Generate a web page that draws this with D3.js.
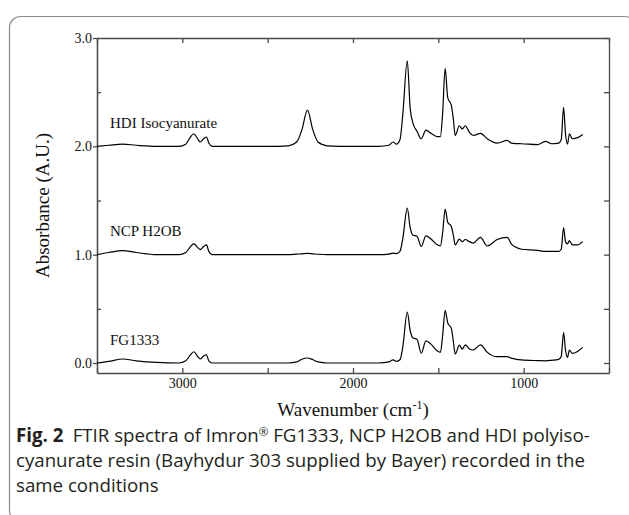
<!DOCTYPE html>
<html>
<head>
<meta charset="utf-8">
<script src="https://cdn.jsdelivr.net/npm/d3@7"></script>
<style>
  body { margin: 0; background: #fff; }
  svg { display: block; }
  .axis path, .axis line { stroke: #4a4a4a; stroke-width: 1.3; }
  .axis text { font-family: "Liberation Serif", serif; font-size: 14px; fill: #111; }
</style>
</head>
<body>
<div class="svgContainer"></div>
<script>
/* wavenumbers (cm-1) shared by the three spectra */
var wavenumbers = [3500, 3430, 3350, 3270, 3150, 3020, 2980, 2955, 2933, 2910,
  2895, 2875, 2858, 2845, 2825, 2700, 2500, 2380, 2330, 2300,
  2267, 2235, 2205, 2150, 2000, 1850, 1790, 1765, 1745, 1725,
  1708, 1682, 1665, 1648, 1625, 1600, 1573, 1543, 1507, 1488,
  1475, 1460, 1445, 1424, 1412, 1401, 1377, 1360, 1342, 1318,
  1295, 1253, 1213, 1155, 1096, 1073, 1048, 1013, 919, 872,
  837, 795, 780, 766, 755, 743, 732, 715, 684, 654];

/* absorbance (already stacked as plotted) */
var hdiValues = [2.00, 2.01, 2.02, 2.01, 2.00, 2.00, 2.02, 2.08, 2.116, 2.07,
  2.04, 2.07, 2.086, 2.03, 2.00, 2.00, 2.00, 2.005, 2.04, 2.15,
  2.335, 2.15, 2.04, 2.005, 2.00, 2.00, 2.01, 2.04, 2.02, 2.06,
  2.30, 2.79, 2.35, 2.21, 2.14, 2.07, 2.15, 2.12, 2.09, 2.09,
  2.30, 2.72, 2.45, 2.38, 2.25, 2.10, 2.19, 2.16, 2.19, 2.13,
  2.10, 2.12, 2.07, 2.03, 2.055, 2.03, 2.025, 2.024, 2.015, 2.046,
  2.024, 2.03, 2.06, 2.36, 2.12, 2.02, 2.116, 2.07, 2.08, 2.11];

var ncpValues = [1.00, 1.02, 1.037, 1.02, 1.00, 1.00, 1.02, 1.07, 1.10, 1.065,
  1.046, 1.075, 1.09, 1.03, 1.00, 1.00, 1.00, 1.00, 1.005, 1.008,
  1.012, 1.008, 1.004, 1.00, 1.00, 1.00, 1.005, 1.015, 1.01, 1.03,
  1.15, 1.43, 1.25, 1.18, 1.17, 1.076, 1.174, 1.144, 1.092, 1.08,
  1.20, 1.42, 1.30, 1.26, 1.18, 1.09, 1.144, 1.12, 1.14, 1.12,
  1.107, 1.16, 1.08, 1.14, 1.16, 1.10, 1.07, 1.05, 1.04, 1.03,
  1.03, 1.03, 1.05, 1.25, 1.12, 1.10, 1.13, 1.09, 1.09, 1.12];

var fgValues = [0.00, 0.015, 0.037, 0.02, 0.005, 0.00, 0.02, 0.07, 0.104, 0.06,
  0.037, 0.065, 0.076, 0.02, 0.00, 0.00, 0.00, 0.00, 0.01, 0.035,
  0.046, 0.03, 0.01, 0.00, 0.00, 0.00, 0.01, 0.028, 0.015, 0.03,
  0.15, 0.47, 0.30, 0.23, 0.22, 0.09, 0.205, 0.174, 0.113, 0.098,
  0.25, 0.486, 0.37, 0.32, 0.20, 0.083, 0.165, 0.128, 0.168, 0.13,
  0.12, 0.168, 0.098, 0.058, 0.058, 0.045, 0.035, 0.028, 0.022, 0.02,
  0.025, 0.034, 0.06, 0.28, 0.12, 0.052, 0.12, 0.089, 0.107, 0.144];

var seriesNames = ["HDI Isocyanurate", "NCP H2OB", "FG1333"];
var seriesBase = [2, 1, 0];

var yTickValues = [0, 1, 2, 3];
var yMinorValues = [0.5, 1.5, 2.5];
var xTickValues = [3500, 3000, 2500, 2000, 1500, 1000, 500];
var xTickLabels = [3000, 2000, 1000];

var captionLines = [
  "FTIR spectra of Imron",
  "cyanurate resin (Bayhydur 303 supplied by Bayer) recorded in the",
  "same conditions"
];

/* set width and height of svg image */
var canvas_width = 629,
    canvas_height = 515;

var svg = d3.select(".svgContainer")
  .append("svg")
    .attr("width", canvas_width)
    .attr("height", canvas_height);

/* rounded frame around figure and caption */
svg.append("rect")
  .attr("x", 9.5)
  .attr("y", 16.5)
  .attr("width", 626)
  .attr("height", 505)
  .attr("rx", 11)
  .attr("fill", "none")
  .attr("stroke", "#8a8a8a")
  .attr("stroke-width", 1.2);

/* plot box */
var plot = { left: 97, right: 609, top: 38, bottom: 373 };

var x = d3.scaleLinear()
  .domain([3500, 500])
  .range([plot.left, plot.right]);

var y = d3.scaleLinear()
  .domain([-0.0923, 3])
  .range([plot.bottom, plot.top]);

/* axes: ticks pointing inward, labels on bottom and left */
svg.append("g")
  .attr("class", "axis")
  .attr("transform", "translate(0," + plot.bottom + ")")
  .call(d3.axisBottom(x)
    .tickValues(xTickValues)
    .tickSizeInner(-5)
    .tickSizeOuter(0)
    .tickPadding(5)
    .tickFormat(function(d) { return xTickLabels.indexOf(d) >= 0 ? d : ""; }));

svg.append("g")
  .attr("class", "axis")
  .attr("transform", "translate(0," + plot.top + ")")
  .call(d3.axisTop(x)
    .tickValues(xTickValues)
    .tickSizeInner(-5)
    .tickSizeOuter(0)
    .tickFormat(""));

svg.append("g")
  .attr("class", "axis")
  .attr("transform", "translate(" + plot.left + ",0)")
  .call(d3.axisLeft(y)
    .tickValues(yTickValues)
    .tickSizeInner(4)
    .tickSizeOuter(0)
    .tickPadding(1)
    .tickFormat(d3.format(".1f")));

svg.append("g")
  .attr("class", "axis")
  .attr("transform", "translate(" + plot.left + ",0)")
  .call(d3.axisLeft(y)
    .tickValues(yMinorValues)
    .tickSizeInner(-4)
    .tickSizeOuter(0)
    .tickFormat(""));

svg.append("g")
  .attr("class", "axis")
  .attr("transform", "translate(" + plot.right + ",0)")
  .call(d3.axisRight(y)
    .tickValues(yTickValues.concat(yMinorValues))
    .tickSizeInner(-5)
    .tickSizeOuter(0)
    .tickFormat(""));

/* spectra */
var allSeries = [hdiValues, ncpValues, fgValues];

var line = d3.line()
  .x(function(d, i) { return x(wavenumbers[i]); })
  .y(function(d) { return y(d); })
  .curve(d3.curveMonotoneX);

svg.selectAll("path.spectrum")
  .data(allSeries)
  .enter()
    .append("path")
      .attr("class", "spectrum")
      .attr("d", line)
      .attr("fill", "none")
      .attr("stroke", "#000")
      .attr("stroke-width", 1.2)
      .attr("stroke-linejoin", "round");

/* series labels */
svg.selectAll("text.series")
  .data(seriesNames)
  .enter()
    .append("text")
      .attr("class", "series")
      .attr("x", plot.left + 13)
      .attr("y", function(d, i) { return y(seriesBase[i] + 0.17); })
      .attr("font-family", "Liberation Serif, serif")
      .attr("font-size", 15)
      .attr("fill", "#111")
      .text(function(d) { return d; });

/* axis titles */
svg.append("text")
  .attr("transform", "translate(49," + ((plot.top + plot.bottom) / 2) + ") rotate(-90)")
  .attr("text-anchor", "middle")
  .attr("font-family", "Liberation Serif, serif")
  .attr("font-size", 19)
  .attr("fill", "#111")
  .text("Absorbance (A.U.)");

var xTitle = svg.append("text")
  .attr("x", (plot.left + plot.right) / 2)
  .attr("y", 416)
  .attr("text-anchor", "middle")
  .attr("font-family", "Liberation Serif, serif")
  .attr("font-size", 19)
  .attr("fill", "#111");
xTitle.append("tspan").text("Wavenumber (cm");
xTitle.append("tspan").attr("dy", -7).attr("font-size", 12).text("-1");
xTitle.append("tspan").attr("dy", 7).text(")");

/* caption */
var caption = svg.append("g")
  .attr("font-family", "Open Sans, sans-serif")
  .attr("fill", "#231f20");

var line1 = caption.append("text")
  .attr("x", 16)
  .attr("y", 442)
  .attr("font-size", 16);
line1.append("tspan").attr("font-weight", "bold").text("Fig. 2");
line1.append("tspan").text("\u2002" + captionLines[0]);
line1.append("tspan").attr("dy", -6).attr("font-size", 10).text("\u00ae");
line1.append("tspan").attr("dy", 6).text(" FG1333, NCP H2OB and HDI polyiso-");

caption.append("text")
  .attr("x", 16)
  .attr("y", 467)
  .attr("font-size", 16)
  .text(captionLines[1]);

caption.append("text")
  .attr("x", 16)
  .attr("y", 492)
  .attr("font-size", 16)
  .text(captionLines[2]);

/* squeeze caption to the width of the original lines */
var w1 = line1.node().getComputedTextLength();
var fit = 574 / w1;
caption.selectAll("text").attr("font-size", 16 * fit);
line1.selectAll("tspan").filter(function(d, i) { return i == 2; }).attr("font-size", 10 * fit);
</script>
</body>
</html>
